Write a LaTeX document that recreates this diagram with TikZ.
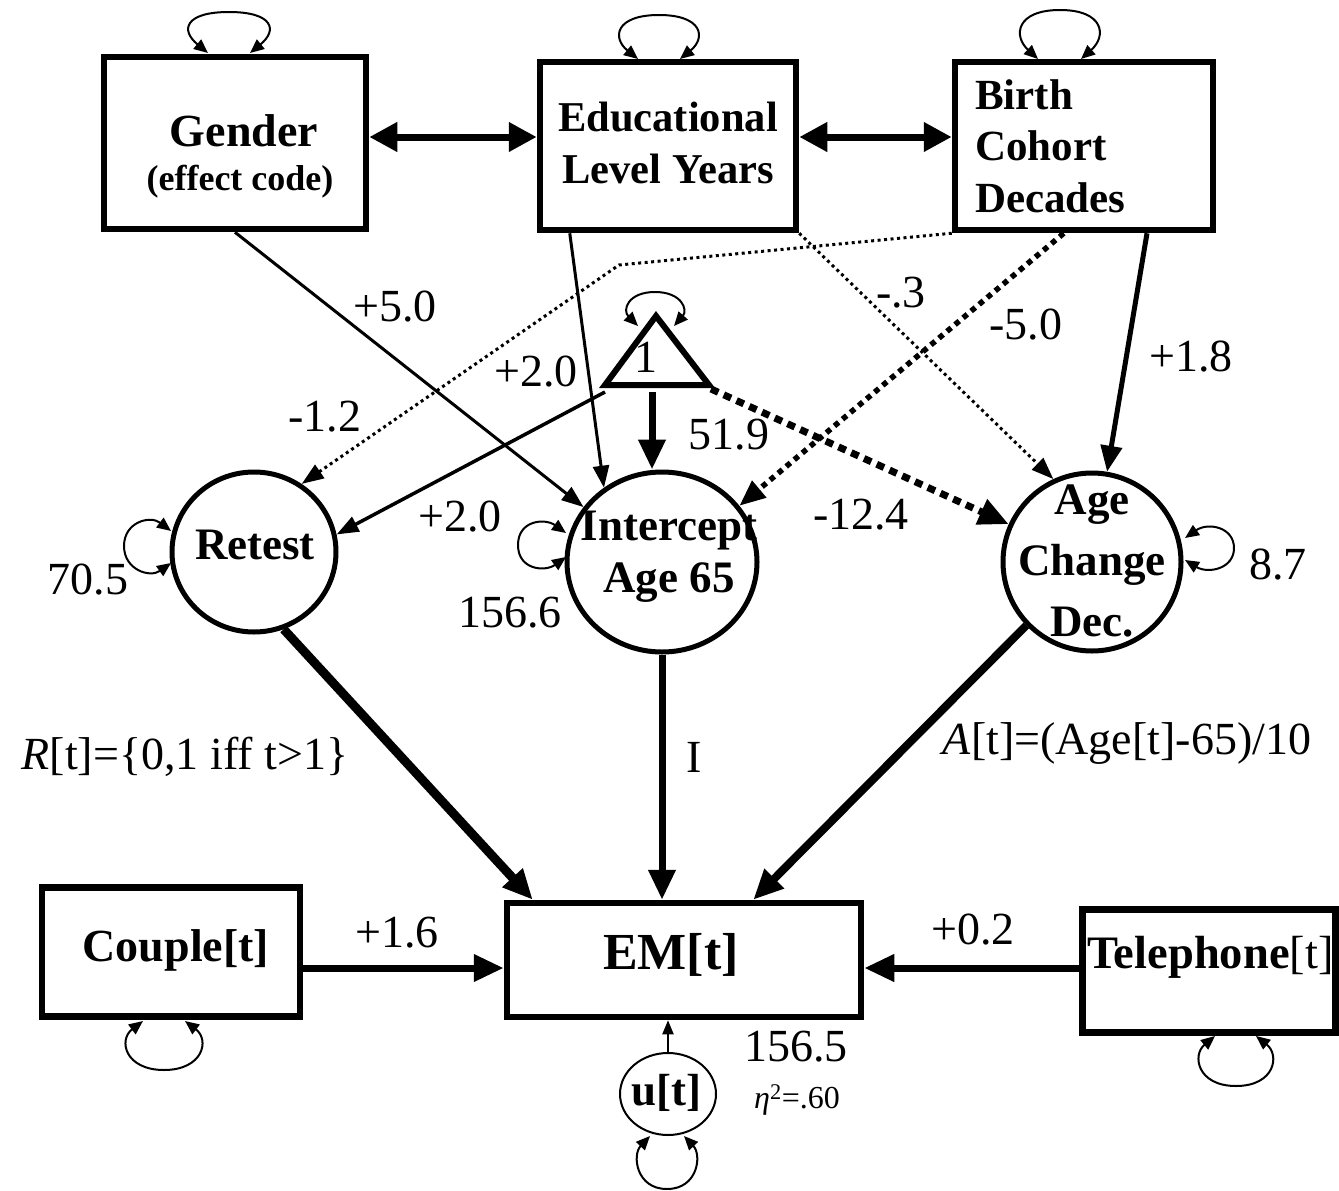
\documentclass[tikz,border=0pt]{standalone}
\usepackage{fontspec}
\setmainfont{Liberation Serif}
\usetikzlibrary{arrows.meta,shapes.geometric}
\begin{document}
\begin{tikzpicture}[x=1pt,y=-1pt,
  box/.style={draw,rectangle,line width=6.5pt,inner sep=0pt},
  bt/.style={font=\fontsize{45}{52}\selectfont\bfseries,inner sep=0pt,align=center},
  lab/.style={font=\fontsize{46}{50}\selectfont,inner sep=0pt},
  lv/.style={draw,ellipse,line width=5pt,inner sep=0pt},
  tipS/.style={-{Triangle[length=22pt,width=16pt]}},
  tipM/.style={-{Triangle[length=26pt,width=21pt]}},
  tipL/.style={-{Triangle[length=30pt,width=26pt]}},
  twoway/.style={line width=7pt,{Triangle[length=28pt,width=28pt]}-{Triangle[length=28pt,width=28pt]}},
  selfl/.style={line width=2pt,{Triangle[length=14pt,width=12pt]}-{Triangle[length=14pt,width=12pt]}},
  fdot/.style={line width=3pt,dash pattern=on 3pt off 3.5pt},
  mdot/.style={line width=5.5pt,dash pattern=on 5.5pt off 5pt},
  bdot/.style={line width=7pt,dash pattern=on 8pt off 6pt},
]
\useasboundingbox (0,0) rectangle (1339,1191);

% ---- top manifest boxes
\node[box,minimum width=262pt,minimum height=172pt] (gender) at (235,143) {};
\node[bt,font=\fontsize{46}{52}\selectfont\bfseries] (gendert) at (244,131) {Gender};
\node[font=\fontsize{36}{40}\selectfont\bfseries,inner sep=0pt] (genderc) at (240,182) {(effect code)};
\node[box,minimum width=256pt,minimum height=168pt] (edu) at (668,146) {};
\node[bt,font=\fontsize{42.5}{52}\selectfont\bfseries] (edut) at (668,143) {Educational\\Level Years};
\node[box,minimum width=258pt,minimum height=168pt] (birth) at (1084,146) {};
\node[bt,align=left,anchor=west,font=\fontsize{43}{51.5}\selectfont\bfseries] (birtht) at (975,146) {Birth\\Cohort\\Decades};

\draw[twoway] (gender.east |- 0,137) -- (edu.west |- 0,137);
\draw[twoway] (edu.east |- 0,137) -- (birth.west |- 0,137);

% ---- latent variables
\node[lv,minimum width=164pt,minimum height=160pt] (retest) at (254,552) {};
\node[bt] (retestt) at (255,545) {Retest};
\node[lv,minimum width=190pt,minimum height=180pt] (icpt) at (662,562) {};
\node[bt] (icptt) at (669,557) {Intercept\\Age 65};
\node[lv,minimum width=178pt,minimum height=178pt] (age) at (1092,562) {};
\node[bt,font=\fontsize{45}{61}\selectfont\bfseries] (aget) at (1092,561) {Age\\Change\\Dec.};

% ---- constant triangle
\draw[line width=6pt,line join=miter] (656,316) -- (605,385) -- (709,385) -- cycle;
\coordinate (tril) at (605,392);
\coordinate (trib) at (652,392);
\coordinate (trir) at (711,389);
\node[lab] (one) at (646,357) {1};
\coordinate (bend) at (619,265);

% ---- bottom
\node[box,minimum width=354pt,minimum height=114pt] (em) at (684,960) {};
\node[font=\fontsize{52}{56}\selectfont\bfseries,inner sep=0pt] (emt) at (671,955) {EM[t]};
\node[box,minimum width=258pt,minimum height=129pt] (couple) at (171,952) {};
\node[bt,font=\fontsize{46}{50}\selectfont\bfseries] (couplet) at (176,950) {Couple[t]};
\node[box,minimum width=253pt,minimum height=123pt] (tel) at (1209,971) {};
\node[font=\fontsize{46.5}{50}\selectfont,inner sep=0pt,anchor=west] (telt) at (1087,957) {\textbf{Telephone}[t]};
\node[draw,ellipse,line width=2pt,minimum width=96pt,minimum height=82pt,inner sep=0pt] (u) at (668,1094) {};
\node[bt] (ut) at (666,1093) {u[t]};

% ---- paths
\draw[line width=3pt,tipS] (gender.south) -- (icpt.145);
\draw[line width=3pt,tipS] ([xshift=33pt]edu.south west) -- (icpt.128);
\draw[line width=3.5pt,tipS] (tril) -- (retest.12);
\draw[line width=7pt,tipL] (trib) -- (trib |- icpt.north);
\draw[bdot,tipL] (trir) -- (age);
\draw[fdot,tipS] (birth.south west) -- (bend) -- (retest.55);
\draw[mdot,tipM] ([xshift=112pt]birth.south west) -- (icpt.36);
\draw[fdot,tipS] (edu.south east) -- (age.115);
\draw[line width=5pt,tipM] ([xshift=63pt]birth.south) -- (age);

\draw[line width=9pt,tipL] (retest.291) -- ([xshift=29pt]em.north west);
\draw[line width=7pt,tipL] (icpt.south) -- (icpt.south |- em.north);
\draw[line width=8pt,tipL] (age.224) -- ([xshift=-111pt]em.north east);
\draw[line width=7pt,tipL] (couple.east |- 0,968) -- (em.west |- 0,968);
\draw[line width=7pt,tipL] (tel.west |- 0,968) -- (em.east |- 0,968);
\draw[line width=2pt,-{Triangle[length=14pt,width=11pt]}] (u) -- (u |- em.south);

% ---- self loops
\draw[selfl] (208,53) .. controls (180,30) and (185,12) .. (229,12) .. controls (273,12) and (278,30) .. (250,53);
\draw[selfl] (638,59) .. controls (612,38) and (615,15) .. (659,15) .. controls (703,15) and (706,38) .. (680,59);
\draw[selfl] (1038,59) .. controls (1013,36) and (1016,10) .. (1060,10) .. controls (1104,10) and (1107,36) .. (1081,59);
\draw[selfl] (638,326) .. controls (622,310) and (628,292) .. (655,292) .. controls (682,292) and (688,310) .. (674,326);
\draw[selfl] (171,531) .. controls (150,515) and (124,522) .. (124,546) .. controls (124,570) and (150,578) .. (171,563);
\draw[selfl] (566,533) .. controls (545,518) and (518,520) .. (518,545) .. controls (518,570) and (545,572) .. (566,557);
\draw[selfl] (1185,538) .. controls (1208,522) and (1234,527) .. (1234,548) .. controls (1234,569) and (1208,574) .. (1185,560);
\draw[selfl] (143,1021) .. controls (118,1040) and (125,1070) .. (164,1070) .. controls (203,1070) and (210,1040) .. (185,1021);
\draw[selfl] (1215,1036) .. controls (1192,1055) and (1197,1086) .. (1236,1086) .. controls (1275,1086) and (1280,1055) .. (1256,1036);
\draw[selfl] (650,1136) .. controls (632,1155) and (636,1189) .. (667,1189) .. controls (698,1189) and (702,1155) .. (684,1136);

% ---- labels
\node[lab] (l50) at (395,307) {+5.0};
\node[lab] (l20a) at (536,372) {+2.0};
\node[lab] (l12) at (325,417) {-1.2};
\node[lab] (l519) at (729,435) {51.9};
\node[lab] (l20b) at (460,517) {+2.0};
\node[lab] (l124) at (861,515) {-12.4};
\node[lab] (l3) at (901,293) {-.3};
\node[lab] (l5) at (1026,325) {-5.0};
\node[lab] (l18) at (1191,357) {+1.8};
\node[lab] (v705) at (88,580) {70.5};
\node[lab] (v1566) at (510,613) {156.6};
\node[lab] (v87) at (1278,565) {8.7};
\node[lab] (lR) at (185,757) {\textit{R}[t]=\{0,1 iff t>1\}};
\node[lab] (lI) at (694,757) {I};
\node[lab] (lA) at (1127,743) {\textit{A}[t]=(Age[t]-65)/10};
\node[lab] (l16) at (397,933) {+1.6};
\node[lab] (l02) at (973,930) {+0.2};
\node[lab] (v1565) at (796,1047) {156.5};
\node[font=\fontsize{32}{36}\selectfont,inner sep=0pt] (eta) at (797,1100) {\textit{η}\textsuperscript{2}=.60};
\end{tikzpicture}
\end{document}
